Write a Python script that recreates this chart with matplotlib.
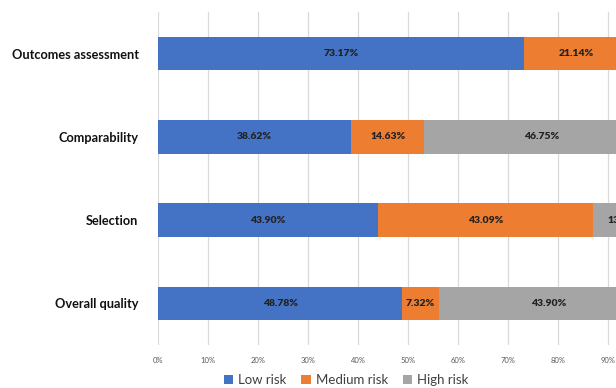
import matplotlib
matplotlib.use("Agg")
import matplotlib.pyplot as plt

# data (percent)
categories = ["Outcomes assessment", "Comparability", "Selection", "Overall quality"]
low_risk = [73.17, 38.62, 43.90, 48.78]
medium_risk = [21.14, 14.63, 43.09, 7.32]
high_risk = [5.69, 46.75, 13.01, 43.90]
series_names = ["Low risk", "Medium risk", "High risk"]
colors = ["#4472C4", "#ED7D31", "#A5A5A5"]
ticks = list(range(0, 101, 10))

plt.rcParams["font.family"] = ["Lato", "DejaVu Sans"]

fig = plt.figure(figsize=(6.16, 3.88), dpi=100)
# the original chart is cut off on the right, so the axes run past the figure edge
ax = fig.add_axes([0.2565, 0.111, 0.8117, 0.858])

y = list(range(len(categories)))
left = [0.0] * len(categories)
for name, vals, col in zip(series_names, [low_risk, medium_risk, high_risk], colors):
    ax.barh(y, vals, left=left, height=0.4, color=col, label=name, zorder=2)
    for yi, l, v in zip(y, left, vals):
        ax.text(l + v / 2, yi, f"{v:.2f}%", ha="center", va="center",
                fontsize=7.5, fontweight="heavy", color="#222222", zorder=3)
    left = [a + b for a, b in zip(left, vals)]

ax.set_xlim(0, 100)
ax.set_ylim(len(categories) - 0.5, -0.5)
ax.set_yticks(y)
ax.set_yticklabels(categories, fontsize=9.2, fontweight="bold", color="#111111")
ax.set_xticks(ticks)
ax.set_xticklabels([f"{t}%" for t in ticks], fontsize=5.5, color="#595959")
ax.tick_params(axis="both", length=0)
ax.tick_params(axis="x", pad=8.5)
ax.tick_params(axis="y", pad=14)
ax.xaxis.grid(True, color="#D9D9D9", linewidth=0.9, zorder=0)
for s in ax.spines.values():
    s.set_visible(False)

fig.legend(loc="center", bbox_to_anchor=(0.562, 0.02), ncol=3, frameon=False,
           fontsize=9.5, handlelength=0.7, handleheight=0.7, handletextpad=0.4,
           columnspacing=1.1, labelcolor="#404040")

fig.savefig("out.png", dpi=100)
